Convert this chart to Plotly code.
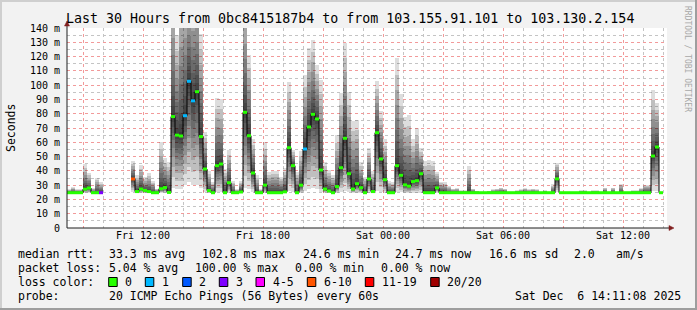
import plotly.graph_objects as go
import pandas as pd

# ---------------- data (12-minute consolidated bins) ----------------
START = pd.Timestamp("2025-12-05 08:12:00")
END = pd.Timestamp("2025-12-06 14:12:00")
STEP_MIN = 12

median_ms = [
    24.7, 24.7, 24.7, 24.7, 27.2, 28.0, 24.7, 24.7, 24.7,
    None, None, None, None, None, None, None,
    34.3, 25.5, 27.3, 26.3, 25.5, 24.7, 24.7, 27.5, 28.3, 24.9,
    78.0, 65.0, 64.4, 78.6, 102.7, 89.0, 95.4, 64.0, 41.3, 26.2,
    24.7, 43.6, 44.8, 24.7, 31.7, 24.7, 24.7, 25.2, 81.0, 64.6,
    38.5, 24.7, 24.7, 30.0, 24.7, 24.7, 24.7, 24.7, 25.3, 56.2,
    43.6, 24.7, 30.0, 55.3, 70.7, 79.6, 76.3, 40.6, 27.3, 25.9,
    24.7, 29.0, 42.2, 62.8, 38.0, 27.3, 31.0, 28.2, 24.7, 34.3,
    25.5, 66.7, 48.3, 33.8, 24.7, 24.7, 43.6, 36.9, 30.2, 29.3,
    32.5, 33.1, 38.0, 24.7, 24.7, 24.7, 28.1, 24.7, 24.7, 24.7,
    24.7, 24.7, 24.7, 24.7, 24.7, 24.7, 24.7, 24.7, 24.7, 24.7,
    24.7, 24.7, 24.7, 24.7, 24.7, 24.7, 24.7, 24.7, 24.7, 24.7,
    24.7, 24.7, 24.7, 24.7, 24.7, 24.7, 34.4, 24.7, 24.7, 24.7,
    24.7, 24.7, 24.7, 24.7, 24.7, 24.7, 24.7, 24.7, 24.7, 24.7,
    24.7, 24.7, 24.7, 24.7, 24.7, 24.7, 24.7, 24.7, 24.7, 24.7,
    50.4, 56.7, 24.7, None,
]

smoke_max_ms = [
    27.3, 28.8, 27.3, 27.0, 44.5, 38.5, 28.0, 35.0, 32.0,
    None, None, None, None, None, None, None,
    47.0, 37.0, 44.0, 35.5, 38.3, 33.0, 27.5, 60.0, 49.0, 46.0,
    175, 135, 175, 175, 175, 175, 175, 136, 67, 40,
    32, 91, 90, 41, 54.6, 33, 27, 33, 165, 121,
    62, 37, 27, 60, 39, 40, 40, 36, 42, 102.4,
    54.6, 39, 54, 107, 126, 131.6, 114, 103.6, 46.4, 40.6,
    37, 65, 94.4, 129.3, 95, 75, 75.6, 46, 36, 55.8,
    40, 103, 82, 62, 33, 32, 119, 94, 78, 79,
    62, 70, 56, 47, 47.5, 47, 39.5, 32.5, 32, 29.4,
    27.5, 28, 26.5, 26.5, 43.5, 27.5, 26, 25.5, 25.5, 26,
    27, 27.5, 28.3, 27.5, 25.5, 25.5, 26.5, 27, 28, 27,
    27.5, 27, 25.5, 26.5, 25.5, 30.5, 45.8, 25.5, 25.5, 25.5,
    25.5, 25.5, 26.5, 26.5, 25.5, 26.5, 26.5, 25.5, 28.3, 25.5,
    28.3, 25.5, 31, 25.5, 25.5, 26.5, 26.5, 28, 30, 30,
    96.6, 87.3, 25.5, None,
]

smoke_min_ms = [
    24.5, 24.5, 24.5, 24.5, 24.5, 24.5, 24.5, 24.5, 24.5,
    None, None, None, None, None, None, None,
    25.0, 24.5, 24.5, 24.5, 24.5, 24.5, 24.5, 24.5, 24.5, 24.5,
    28.0, 27.0, 27.0, 30.0, 32.0, 30.0, 30.0, 28.0, 25.0, 24.5,
    24.5, 25.0, 25.0, 24.5, 24.5, 24.5, 24.5, 24.5, 28.0, 27.0,
    25.0, 24.5, 24.5, 24.5, 24.5, 24.5, 24.5, 24.5, 24.5, 26.0,
    25.0, 24.5, 24.5, 26.0, 27.0, 28.0, 27.0, 25.0, 24.5, 24.5,
    24.5, 24.5, 25.0, 26.0, 25.0, 24.5, 24.5, 24.5, 24.5, 24.5,
    24.5, 26.0, 25.0, 24.5, 24.5, 24.5, 25.0, 25.0, 24.5, 24.5,
    24.5, 24.5, 24.5, 24.5, 24.5, 24.5, 24.5, 24.5, 24.5, 24.5,
    24.5, 24.5, 24.5, 24.5, 24.5, 24.5, 24.5, 24.5, 24.5, 24.5,
    24.5, 24.5, 24.5, 24.5, 24.5, 24.5, 24.5, 24.5, 24.5, 24.5,
    24.5, 24.5, 24.5, 24.5, 24.5, 24.5, 25.0, 24.5, 24.5, 24.5,
    24.5, 24.5, 24.5, 24.5, 24.5, 24.5, 24.5, 24.5, 24.5, 24.5,
    24.5, 24.5, 24.5, 24.5, 24.5, 24.5, 24.5, 24.5, 24.5, 24.5,
    26.0, 26.0, 24.5, None,
]

lost_pings = [
    0, 0, 0, 0, 0, 0, 0, 0, 3,
    None, None, None, None, None, None, None,
    8, 0, 0, 0, 0, 0, 0, 0, 0, 0,
    0, 0, 0, 1, 1, 1, 0, 0, 0, 0,
    0, 0, 0, 0, 0, 0, 0, 0, 0, 0,
    0, 0, 0, 0, 0, 0, 0, 0, 0, 0,
    0, 0, 0, 1, 0, 0, 0, 0, 0, 0,
    0, 0, 0, 0, 0, 0, 0, 0, 0, 0,
    0, 0, 0, 0, 0, 0, 0, 0, 0, 0,
    0, 0, 0, 0, 0, 0, 0, 0, 0, 0,
    0, 0, 0, 0, 0, 0, 0, 0, 0, 0,
    0, 0, 0, 0, 0, 0, 0, 0, 0, 0,
    0, 0, 0, 0, 0, 0, 0, 0, 0, 0,
    0, 0, 0, 0, 0, 0, 0, 0, 0, 0,
    0, 0, 0, 0, 0, 0, 0, 0, 0, 0,
    0, 0, 0, None,
]

loss_labels = ["0", "1", "2", "3", "4-5", "6-10", "11-19", "20/20"]
loss_upper = [0, 1, 2, 3, 5, 10, 19, 20]
loss_colors = ["#26ff00", "#00b8ff", "#0059ff", "#7e00ff", "#ff00ff", "#ff5500", "#ff0000", "#a00000"]

y_tick_values = [0, 10, 20, 30, 40, 50, 60, 70, 80, 90, 100, 110, 120, 130, 140]
y_tick_labels = ["0", "10 m", "20 m", "30 m", "40 m", "50 m", "60 m", "70 m", "80 m",
                 "90 m", "100 m", "110 m", "120 m", "130 m", "140 m"]
x_tick_values = ["2025-12-05 09:00", "2025-12-05 12:00", "2025-12-05 15:00", "2025-12-05 18:00",
                 "2025-12-05 21:00", "2025-12-06 00:00", "2025-12-06 03:00", "2025-12-06 06:00",
                 "2025-12-06 09:00", "2025-12-06 12:00"]
x_tick_labels = ["", "Fri 12:00", "", "Fri 18:00", "", "Sat 00:00", "", "Sat 06:00", "", "Sat 12:00"]

title_text = "Last 30 Hours from 0bc8415187b4 to from 103.155.91.101 to 103.130.2.154"
stats_rows = [
    [("median rtt:", 16), ("33.3 ms avg", 107.3), ("102.8 ms max", 200), ("24.6 ms min", 300.7),
     ("24.7 ms now", 393.3), ("16.6 ms sd", 486.7), ("2.0", 572.3), ("am/s", 614)],
    [("packet loss:", 16), ("5.04 % avg", 107.3), ("100.00 % max", 193.2), ("0.00 % min", 293.3),
     ("0.00 % now", 379.3)],
    [("loss color:", 16)],
    [("probe:", 16), ("20 ICMP Echo Pings (56 Bytes) every 60s", 107.3),
     ("Sat Dec\u00a0\u00a06 14:11:08 2025", 513.3)],
]

# ---------------- geometry helpers ----------------
W, H = 697, 310
PL, PR, PT, PB = 67, 667, 28, 228


def xp(px):
    return (px - PL) / (PR - PL)


def yp(py):
    return (PB - py) / (PB - PT)


FONT = "DejaVu Sans Mono"
GRID = "#c4c4c4"
MGRID = "#f29a9a"

step = pd.Timedelta(minutes=STEP_MIN)
starts = [START + step * i for i in range(len(median_ms))]
centers = [t + step / 2 for t in starts]
width_ms = STEP_MIN * 60 * 1000

fig = go.Figure()

# smoke: stacked translucent bands around the median (darkest next to the median)
N = 10
for k in range(N, 0, -1):
    f = (k / N) ** 1.6
    lows, spans = [], []
    for m, lo, hi in zip(median_ms, smoke_min_ms, smoke_max_ms):
        if m is None:
            lows.append(None)
            spans.append(None)
        else:
            a = m - (m - lo) * f
            b = m + (hi - m) * f
            lows.append(a)
            spans.append(b - a)
    fig.add_trace(go.Bar(x=centers, y=spans, base=lows, width=width_ms,
                         marker=dict(color="rgba(0,0,0,0.135)", line=dict(width=0)),
                         hoverinfo="skip", showlegend=False))

# black step line of the median
fig.add_trace(go.Scatter(x=starts + [starts[-1] + step], y=median_ms + [median_ms[-1]],
                         mode="lines", line=dict(color="#000000", width=1, shape="hv"),
                         connectgaps=False, hoverinfo="skip", showlegend=False))


def loss_cat(n):
    for i, u in enumerate(loss_upper):
        if n <= u:
            return i
    return len(loss_upper) - 1


for ci, col in enumerate(loss_colors):
    xs, ys = [], []
    for t, m, n in zip(starts, median_ms, lost_pings):
        if m is None or n is None or loss_cat(n) != ci:
            continue
        xs += [t, t + step, None]
        ys += [m, m, None]
    if xs:
        fig.add_trace(go.Scatter(x=xs, y=ys, mode="lines", line=dict(color=col, width=3),
                                 hoverinfo="skip", showlegend=False))

shapes = []
# frame (3D shading)
shapes.append(dict(type="rect", xref="paper", yref="paper", x0=xp(0), x1=xp(W), y0=yp(0), y1=yp(2),
                   fillcolor="#cfcfcf", line=dict(width=0), layer="above"))
shapes.append(dict(type="rect", xref="paper", yref="paper", x0=xp(0), x1=xp(2), y0=yp(0), y1=yp(H),
                   fillcolor="#cfcfcf", line=dict(width=0), layer="above"))
shapes.append(dict(type="rect", xref="paper", yref="paper", x0=xp(0), x1=xp(W), y0=yp(H - 2), y1=yp(H),
                   fillcolor="#9e9e9e", line=dict(width=0), layer="above"))
shapes.append(dict(type="rect", xref="paper", yref="paper", x0=xp(W - 2), x1=xp(W), y0=yp(0), y1=yp(H),
                   fillcolor="#9e9e9e", line=dict(width=0), layer="above"))
# axes with arrows
shapes.append(dict(type="line", xref="paper", yref="paper", x0=xp(PL), x1=xp(PL), y0=yp(PB), y1=yp(24),
                   line=dict(color="#1f1f1f", width=1)))
shapes.append(dict(type="line", xref="paper", yref="paper", x0=xp(PL), x1=xp(671), y0=yp(PB), y1=yp(PB),
                   line=dict(color="#1f1f1f", width=1)))
shapes.append(dict(type="path", xref="paper", yref="paper",
                   path=f"M {xp(64.5)} {yp(26)} L {xp(69.5)} {yp(26)} L {xp(67)} {yp(21)} Z",
                   fillcolor="#801f1f", line=dict(color="#801f1f", width=0.5)))
shapes.append(dict(type="path", xref="paper", yref="paper",
                   path=f"M {xp(669)} {yp(225.5)} L {xp(669)} {yp(230.5)} L {xp(674)} {yp(228)} Z",
                   fillcolor="#801f1f", line=dict(color="#801f1f", width=0.5)))

annotations = []
annotations.append(dict(text=title_text, xref="paper", yref="paper", x=xp(64), y=yp(18.7),
                        xanchor="left", yanchor="middle", showarrow=False,
                        font=dict(family=FONT, size=13.3, color="#000")))
annotations.append(dict(text="Seconds", xref="paper", yref="paper", x=xp(11), y=yp(128),
                        xanchor="center", yanchor="middle", showarrow=False, textangle=-90,
                        font=dict(family=FONT, size=11.5, color="#000")))
annotations.append(dict(text="RRDTOOL / TOBI OETIKER", xref="paper", yref="paper", x=xp(688), y=yp(59),
                        xanchor="center", yanchor="middle", showarrow=False, textangle=90,
                        font=dict(family=FONT, size=8, color="#a8a8a8")))

row_y = [254.3, 268.3, 282.0, 296.3]
for row, ypx in zip(stats_rows, row_y):
    for txt, xpx in row:
        annotations.append(dict(text=txt, xref="paper", yref="paper", x=xp(xpx), y=yp(ypx),
                                xanchor="left", yanchor="middle", showarrow=False,
                                font=dict(family=FONT, size=11.5, color="#000")))

box_left = [108.7, 145.3, 182.7, 219.3, 256, 307.3, 365.3, 430.7]
for lab, col, bx in zip(loss_labels, loss_colors, box_left):
    shapes.append(dict(type="rect", xref="paper", yref="paper", x0=xp(bx), x1=xp(bx + 8.5),
                       y0=yp(277.5), y1=yp(286.5), fillcolor=col, line=dict(color="#000", width=1)))
    annotations.append(dict(text=lab, xref="paper", yref="paper", x=xp(bx + 14.6), y=yp(282),
                            xanchor="left", yanchor="middle", showarrow=False,
                            font=dict(family=FONT, size=11.5, color="#000")))

fig.update_layout(
    width=W, height=H,
    margin=dict(l=PL, r=W - PR, t=PT, b=H - PB, pad=0),
    paper_bgcolor="#f2f2f2", plot_bgcolor="#ffffff",
    barmode="overlay", bargap=0, showlegend=False,
    font=dict(family=FONT, size=10, color="#000"),
    shapes=shapes, annotations=annotations,
    xaxis=dict(type="date", range=[START, END], tickmode="array", tickvals=x_tick_values,
               ticktext=x_tick_labels, showgrid=True, gridcolor=MGRID, griddash="dot",
               gridwidth=1, showline=False, zeroline=False, ticks="",
               tickfont=dict(family=FONT, size=10, color="#000"),
               minor=dict(tickmode="linear", tick0="2025-12-05 00:00", dtick=3600000,
                          showgrid=True, gridcolor=GRID, griddash="dot", gridwidth=1),
               fixedrange=True),
    yaxis=dict(range=[0, 140], tickmode="array", tickvals=y_tick_values, ticktext=y_tick_labels,
               showgrid=True, gridcolor=MGRID, griddash="dot", gridwidth=1,
               showline=False, zeroline=False, ticks="", ticklabelstandoff=6,
               tickfont=dict(family=FONT, size=10, color="#000"),
               minor=dict(tickmode="linear", tick0=0, dtick=5, showgrid=True, gridcolor=GRID,
                          griddash="dot", gridwidth=1),
               fixedrange=True),
)

fig.write_html("out.html", include_plotlyjs=True, config={"displayModeBar": False})
